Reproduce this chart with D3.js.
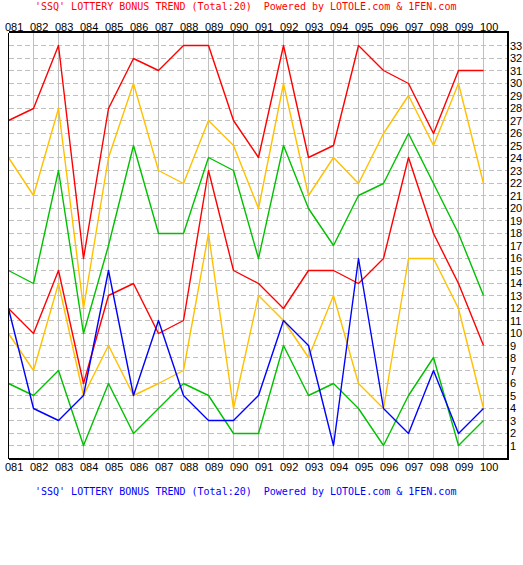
<!DOCTYPE html>
<html>
<head>
<meta charset="utf-8">
<script src="https://cdn.jsdelivr.net/npm/d3@7"></script>
<style>
  body { margin: 0; background: #fff; }
  svg { display: block; }
  text { white-space: pre; }
</style>
</head>
<body>
<div id="chart"></div>
<script>
// issues along the x axis
const issues = ["081","082","083","084","085","086","087","088","089","090",
                "091","092","093","094","095","096","097","098","099","100"];
const yTicks = d3.range(1, 34);

// red balls, sorted per draw (ball1 lowest .. ball6 highest)
const ball1 = [6,5,7,1,6,2,4,6,5,2,2,9,5,6,4,1,5,8,1,3];
const ball2 = [10,7,14,5,9,5,6,7,18,4,13,11,8,13,6,4,16,16,12,4];
const ball3 = [12,10,15,6,13,14,10,11,23,15,14,12,15,15,14,16,24,18,14,9];
const ball4 = [15,14,23,10,17,25,18,18,24,23,16,25,20,17,21,22,26,22,18,13];
const ball5 = [24,21,28,12,24,30,23,22,27,25,20,30,21,24,22,26,29,25,30,22];
const ball6 = [27,28,33,16,28,32,31,33,33,27,24,33,24,25,33,31,30,26,31,31];
// blue ball
const blueBall = [12,4,3,5,15,5,11,5,3,3,5,11,9,1,16,4,2,7,2,4];

const title = "'SSQ' LOTTERY BONUS TREND (Total:20)  Powered by LOTOLE.com & 1FEN.com";

const width = 523, height = 565;
const plotL = 8.5, plotR = 508.5, plotT = 32.5, plotB = 457.5;

const x = d3.scaleLinear().domain([0, issues.length]).range([plotL, plotR]);
const y = d3.scaleLinear().domain([0, 34]).range([plotB, plotT]);

const svg = d3.select("#chart").append("svg")
    .attr("width", width).attr("height", height);

// horizontal dashed grid
svg.append("g").selectAll("line")
    .data(yTicks).enter().append("line")
    .attr("x1", plotL).attr("x2", plotR)
    .attr("y1", d => Math.round(y(d)) + 0.5).attr("y2", d => Math.round(y(d)) + 0.5)
    .attr("stroke", "#c0c0c0")
    .attr("stroke-dasharray", "5,3")
    .attr("shape-rendering", "crispEdges");

// vertical grid
svg.append("g").selectAll("line")
    .data(d3.range(1, issues.length)).enter().append("line")
    .attr("x1", d => x(d)).attr("x2", d => x(d))
    .attr("y1", plotT).attr("y2", plotB)
    .attr("stroke", "#c0c0c0")
    .attr("shape-rendering", "crispEdges");

// trend lines
const series = [
  { values: ball1, color: "#00c000" },
  { values: ball2, color: "#ffc000" },
  { values: ball3, color: "#ff0000" },
  { values: ball4, color: "#00c000" },
  { values: ball5, color: "#ffc000" },
  { values: ball6, color: "#ff0000" },
  { values: blueBall, color: "#0000ff" }
];
const line = d3.line().x((d, i) => x(i)).y(d => Math.round(y(d)) + 0.5);

svg.append("g").selectAll("path")
    .data(series).enter().append("path")
    .attr("d", d => line(d.values))
    .attr("fill", "none")
    .attr("stroke", d => d.color)
    .attr("stroke-width", 1.4)
    .attr("stroke-linejoin", "round");

// frame
svg.append("line").attr("x1", plotL).attr("x2", plotL).attr("y1", plotT).attr("y2", plotB + 1)
    .attr("stroke", "#000").attr("shape-rendering", "crispEdges");
svg.append("line").attr("x1", plotL).attr("x2", plotR).attr("y1", plotT - 0.5).attr("y2", plotT - 0.5)
    .attr("stroke", "#000").attr("stroke-width", 2).attr("shape-rendering", "crispEdges");
svg.append("line").attr("x1", plotR - 0.5).attr("x2", plotR - 0.5).attr("y1", plotT).attr("y2", plotB + 1.5)
    .attr("stroke", "#000").attr("stroke-width", 2).attr("shape-rendering", "crispEdges");
svg.append("line").attr("x1", plotL).attr("x2", plotR).attr("y1", plotB + 1).attr("y2", plotB + 1)
    .attr("stroke", "#000").attr("stroke-width", 2).attr("shape-rendering", "crispEdges");

// labels
const labelFont = "'Liberation Sans', Arial, sans-serif";
svg.append("g").selectAll("text")
    .data(issues).enter().append("text")
    .attr("x", (d, i) => x(i) - 3.5).attr("y", 30.5)
    .attr("font-family", labelFont).attr("font-size", 11)
    .text(d => d);
svg.append("g").selectAll("text")
    .data(issues).enter().append("text")
    .attr("x", (d, i) => x(i) - 3.5).attr("y", 470.5)
    .attr("font-family", labelFont).attr("font-size", 11)
    .text(d => d);
svg.append("g").selectAll("text")
    .data(yTicks).enter().append("text")
    .attr("x", 510).attr("y", d => y(d) + 4.5)
    .attr("font-family", labelFont).attr("font-size", 11)
    .text(d => d);

// titles
svg.append("text").attr("x", 35).attr("y", 10)
    .attr("font-family", "'DejaVu Sans Mono', monospace").attr("font-size", 10)
    .attr("fill", "#ff0000").text(title);
svg.append("text").attr("x", 35).attr("y", 495)
    .attr("font-family", "'DejaVu Sans Mono', monospace").attr("font-size", 10)
    .attr("fill", "#0000ff").text(title);
</script>
</body>
</html>
